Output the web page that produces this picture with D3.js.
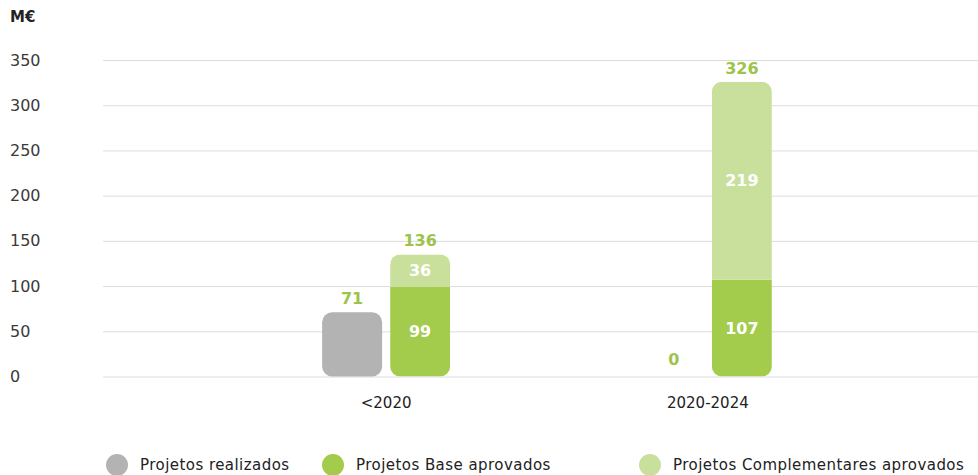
<!DOCTYPE html>
<html>
<head>
<meta charset="utf-8">
<script src="https://cdn.jsdelivr.net/npm/d3@7"></script>
<style>
  html, body { margin: 0; padding: 0; background: #ffffff; }
  svg { display: block; font-family: "DejaVu Sans", "Open Sans", sans-serif; }
</style>
</head>
<body>
<svg id="chart" width="978" height="475"></svg>
<script>
// Investment by period (M€)
const categories = ["<2020", "2020-2024"];
const realizados = [71, 0];
const baseAprovados = [99, 107];
const complementaresAprovados = [36, 219];
const totaisAprovados = [136, 326];
const yTicks = [0, 50, 100, 150, 200, 250, 300, 350];
const legendLabels = ["Projetos realizados", "Projetos Base aprovados", "Projetos Complementares aprovados"];

const colors = {
  realizados: "#b3b3b3",
  base: "#a3cb4c",
  comp: "#c9e09c",
  valueLabel: "#9dc44a",
  grid: "#dcdcdc",
  text: "#3a3a3a"
};

const svg = d3.select("#chart");
const plot = { left: 103, right: 978, top: 60, bottom: 376.5 };

const y = d3.scaleLinear().domain([0, 350]).range([plot.bottom, plot.top]);
const x = d3.scaleBand().domain(categories).range([103, 991]).paddingOuter(0.38).paddingInner(0);
const sub = d3.scaleBand().domain(["realizados", "aprovados"])
  .range([-64, 64]).paddingInner(0.1176).paddingOuter(0);

// gridlines + tick labels
const yAxis = d3.axisLeft(y).tickValues(yTicks).tickSize(-(plot.right - plot.left)).tickPadding(0);
const gAxis = svg.append("g").attr("transform", `translate(${plot.left},0)`).call(yAxis);
gAxis.select(".domain").remove();
gAxis.selectAll(".tick line").attr("stroke", colors.grid).attr("stroke-width", 1);
gAxis.selectAll(".tick text")
  .attr("x", 10 - plot.left)
  .attr("text-anchor", "start")
  .attr("fill", colors.text)
  .style("font-size", "16px")
  .style("font-family", "'DejaVu Sans', sans-serif");

svg.append("text").attr("x", 10).attr("y", 22)
  .attr("fill", "#222").style("font-size", "15px").style("font-weight", "700")
  .text("M€");

const r = 10;
const valueFont = "16px";
const defs = svg.append("defs");

categories.forEach((c, i) => {
  const cx = x(c) + x.bandwidth() / 2;
  const bw = sub.bandwidth();

  // realizados bar
  const gx = cx + sub("realizados");
  if (realizados[i] > 0) {
    svg.append("rect")
      .attr("x", gx).attr("y", y(realizados[i]))
      .attr("width", bw).attr("height", y(0) - y(realizados[i]))
      .attr("rx", r).attr("ry", r)
      .attr("fill", colors.realizados);
  }
  svg.append("text")
    .attr("x", gx + bw / 2).attr("y", y(realizados[i]) - (realizados[i] > 0 ? 8 : 12))
    .attr("text-anchor", "middle").attr("fill", colors.valueLabel)
    .style("font-size", valueFont).style("font-weight", "700")
    .text(realizados[i]);

  // approved stack: base + complementary, rounded as one column
  const ax = cx + sub("aprovados");
  const top = baseAprovados[i] + complementaresAprovados[i];
  const clipId = "clip-" + i;
  defs.append("clipPath").attr("id", clipId)
    .append("rect")
    .attr("x", ax).attr("y", y(top))
    .attr("width", bw).attr("height", y(0) - y(top))
    .attr("rx", r).attr("ry", r);
  const g = svg.append("g").attr("clip-path", `url(#${clipId})`);
  g.append("rect")
    .attr("x", ax).attr("y", y(baseAprovados[i]))
    .attr("width", bw).attr("height", y(0) - y(baseAprovados[i]))
    .attr("fill", colors.base);
  g.append("rect")
    .attr("x", ax).attr("y", y(top))
    .attr("width", bw).attr("height", y(baseAprovados[i]) - y(top))
    .attr("fill", colors.comp);

  // segment labels
  svg.append("text")
    .attr("x", ax + bw / 2).attr("y", (y(0) + y(baseAprovados[i])) / 2)
    .attr("dy", "0.36em").attr("text-anchor", "middle").attr("fill", "#ffffff")
    .style("font-size", valueFont).style("font-weight", "700")
    .text(baseAprovados[i]);
  svg.append("text")
    .attr("x", ax + bw / 2).attr("y", (y(baseAprovados[i]) + y(top)) / 2)
    .attr("dy", "0.36em").attr("text-anchor", "middle").attr("fill", "#ffffff")
    .style("font-size", valueFont).style("font-weight", "700")
    .text(complementaresAprovados[i]);
  // total label
  svg.append("text")
    .attr("x", ax + bw / 2).attr("y", y(totaisAprovados[i]) - 8)
    .attr("text-anchor", "middle").attr("fill", colors.valueLabel)
    .style("font-size", valueFont).style("font-weight", "700")
    .text(totaisAprovados[i]);

  // category label
  svg.append("text")
    .attr("x", cx).attr("y", 408)
    .attr("text-anchor", "middle").attr("fill", "#222")
    .style("font-size", "15px")
    .text(c);
});

// legend
const legendX = [117, 333, 650];
const legendColors = [colors.realizados, colors.base, colors.comp];
legendLabels.forEach((lab, i) => {
  const g = svg.append("g").attr("transform", `translate(${legendX[i]},465)`);
  g.append("circle").attr("r", 11).attr("fill", legendColors[i]);
  g.append("text").attr("x", 23).attr("dy", "0.36em")
    .attr("fill", "#222").style("font-size", "15px").style("letter-spacing", "0.45px")
    .text(lab);
});
</script>
</body>
</html>
